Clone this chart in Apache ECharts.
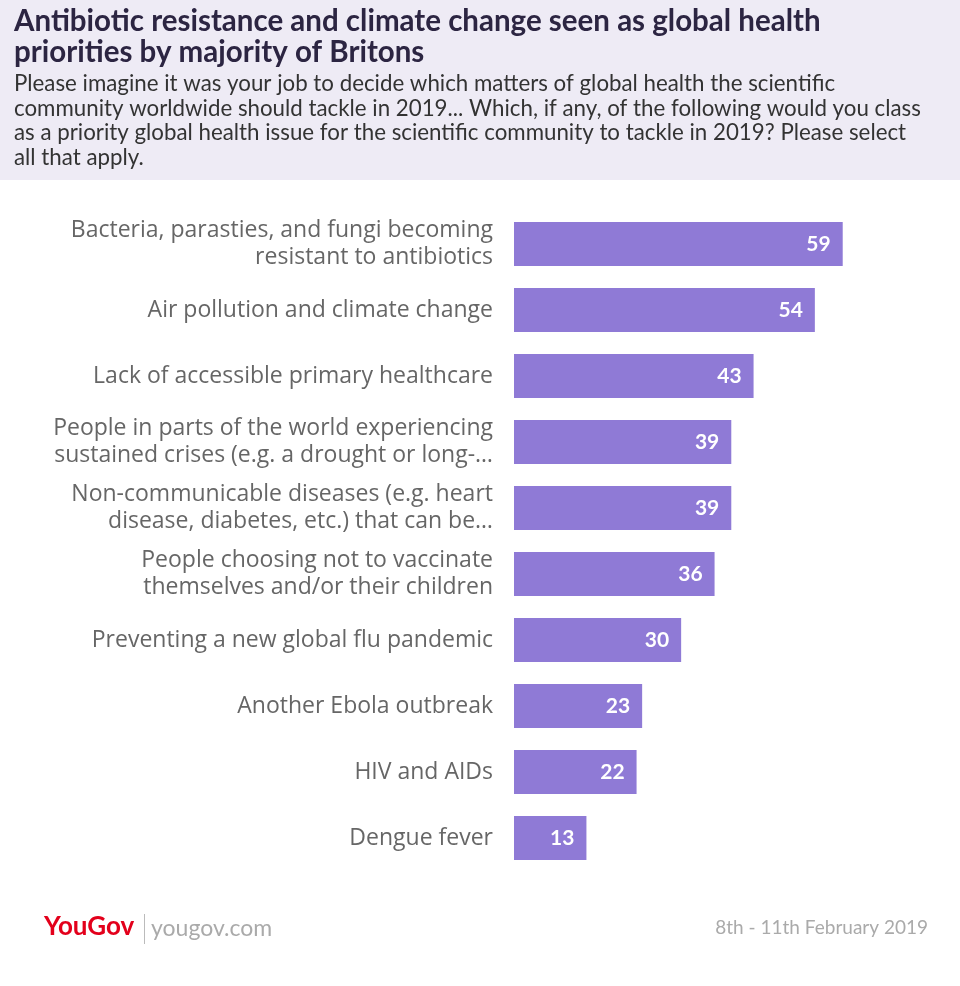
<!DOCTYPE html>
<html><head><meta charset="utf-8">
<script src="https://cdn.jsdelivr.net/npm/echarts@6/dist/echarts.min.js"></script>
<style>html,body{margin:0;padding:0;background:#fff}#c{width:960px;height:986px}</style>
</head><body><div id="c"></div>
<script>
const categories = [
  "Bacteria, parasties, and fungi becoming\nresistant to antibiotics",
  "Air pollution and climate change",
  "Lack of accessible primary healthcare",
  "People in parts of the world experiencing\nsustained crises (e.g. a drought or long-…",
  "Non-communicable diseases (e.g. heart\ndisease, diabetes, etc.) that can be…",
  "People choosing not to vaccinate\nthemselves and/or their children",
  "Preventing a new global flu pandemic",
  "Another Ebola outbreak",
  "HIV and AIDs",
  "Dengue fever"
];
const values = [59, 54, 43, 39, 39, 36, 30, 23, 22, 13];
const titleText = "Antibiotic resistance and climate change seen as global health\npriorities by majority of Britons";
const subtitleText = "Please imagine it was your job to decide which matters of global health the scientific\ncommunity worldwide should tackle in 2019... Which, if any, of the following would you class\nas a priority global health issue for the scientific community to tackle in 2019? Please select\nall that apply.";
const dateText = "8th - 11th February 2019";

const font = "Lato, 'Open Sans', sans-serif";
const chart = echarts.init(document.getElementById('c'));
chart.setOption({
  animation: false,
  graphic: [
    {type:'rect', shape:{x:0,y:0,width:960,height:180}, style:{fill:'#eeebf5'}, z:-10},
    {type:'text', left:44, top:914, style:{text:'YouGov', fill:'#e3001b', font:"bold 26px Lato, sans-serif"}},
    {type:'rect', shape:{x:144,y:914,width:1,height:30}, style:{fill:'#bbb'}},
    {type:'text', left:151, top:917, style:{text:'yougov.com', fill:'#aaa', font:"23px "+font}},
    {type:'text', right:32, top:918, style:{text:dateText, fill:'#aaa', font:"19px "+font}}
  ],
  title: {
    text: titleText, subtext: subtitleText, left: 9, top: 1, itemGap: 4,
    textStyle: {fontFamily: font, fontSize: 29.5, fontWeight: 'bold', color: '#2c2542', lineHeight: 31},
    subtextStyle: {fontFamily: font, fontSize: 22.3, color: '#333', lineHeight: 24.5}
  },
  grid: {left: 514, top: 211, height: 660, width: 390, containLabel: false},
  xAxis: {type: 'value', min: 0, max: 70, show: false},
  yAxis: {
    type: 'category', data: categories, inverse: true,
    axisLine: {show: false}, axisTick: {show: false},
    axisLabel: {margin: 21, fontFamily: "'Open Sans', sans-serif", fontSize: 23, color: '#666', lineHeight: 27, align: 'right', padding: [3, 0, 0, 0]}
  },
  series: [{
    type: 'bar', data: values, barCategoryGap: '33%',
    itemStyle: {color: '#8f7ad6'},
    label: {show: true, position: 'insideRight', distance: 12, color: '#fff', fontFamily: font, fontWeight: 'bold', fontSize: 21}
  }]
});
</script></body></html>
